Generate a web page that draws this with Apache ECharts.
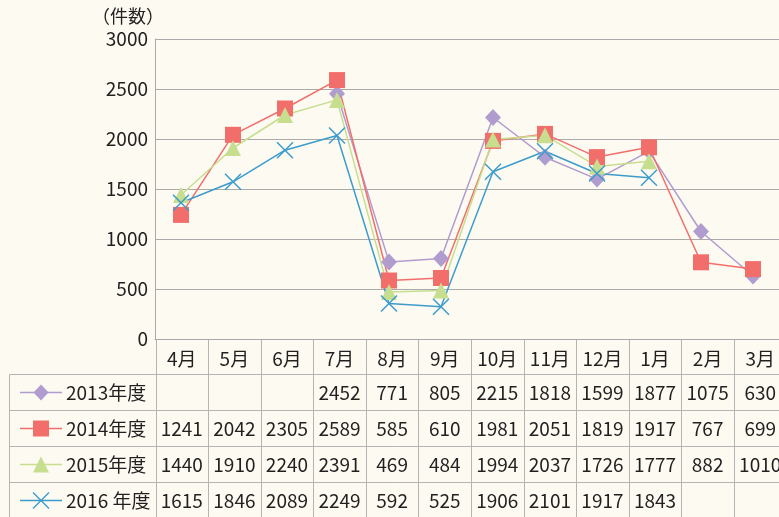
<!DOCTYPE html>
<html>
<head>
<meta charset="utf-8">
<script src="https://cdn.jsdelivr.net/npm/echarts@6/dist/echarts.min.js"></script>
<style>
html,body{margin:0;padding:0;background:#fdfaf2;}
#chart{width:779px;height:517px;}
</style>
</head>
<body>
<div id="chart"></div>
<script>
// ---- data ----
const months = ['4月','5月','6月','7月','8月','9月','10月','11月','12月','1月','2月','3月'];
const seriesNames = ['2013年度','2014年度','2015年度','2016 年度'];
const table2013 = [null,null,null,2452,771,805,2215,1818,1599,1877,1075,630];
const table2014 = [1241,2042,2305,2589,585,610,1981,2051,1819,1917,767,699];
const table2015 = [1440,1910,2240,2391,469,484,1994,2037,1726,1777,882,1010];
const table2016 = [1615,1846,2089,2249,592,525,1906,2101,1917,1843,null,null];
// plotted positions as drawn in the picture
const plot2013 = [null,null,null,2452,771,805,2215,1818,1599,1877,1075,630];
const plot2014 = [1241,2042,2305,2589,585,610,1981,2051,1819,1917,767,699];
const plot2015 = [1440,1910,2240,2391,469,484,1994,2037,1726,1777,null,null];
const plot2016 = [1362,1572,1888,2035,355,322,1672,1878,1655,1612,null,null];
const yMin = 0, yMax = 3000, yStep = 500;
const yAxisName = '（件数）';

// ---- style ----
const colors = ['#b09ccf','#f26e6b','#c6de8d','#3c9ccc'];
const FONT = '"Noto Sans CJK JP", "Noto Sans", sans-serif';
const TXT = '#231f20';
const G = {left:155, top:39, width:631, height:300};
const crossPath = 'path://M0 0L16 16M16 0L0 16';
const symbols = ['diamond','rect','triangle',crossPath];

const tables = [table2013, table2014, table2015, table2016];
const plots = [plot2013, plot2014, plot2015, plot2016];

const chart = echarts.init(document.getElementById('chart'), null, {renderer:'canvas'});

function buildTable(){
  const els = [];
  const colW = G.width / months.length;
  const x0 = G.left + 0.5;
  const headTop = G.top + G.height + 0.5;
  const rowLines = [374.5, 410.5, 446.5, 482.5, 518.5];
  const lineColor = '#b4b4b4';
  const right = 779;
  rowLines.slice(0,4).forEach(y=>{
    els.push({type:'line', shape:{x1:9.5,y1:y,x2:right,y2:y}, style:{stroke:lineColor,lineWidth:1}, silent:true});
  });
  els.push({type:'line', shape:{x1:9.5,y1:rowLines[0],x2:9.5,y2:517}, style:{stroke:lineColor,lineWidth:1}, silent:true});
  for(let i=0;i<=months.length;i++){
    const x = Math.round(x0 + i*colW) + 0.5;
    els.push({type:'line', shape:{x1:x,y1:headTop,x2:x,y2:517}, style:{stroke:lineColor,lineWidth:1}, silent:true});
  }
  months.forEach((m,i)=>{
    els.push({type:'text', silent:true, style:{text:m, x:x0+(i+0.5)*colW, y:(headTop+rowLines[0])/2+1.5,
      fill:TXT, font:'19px '+FONT, align:'center', verticalAlign:'middle'}});
  });
  tables.forEach((arr,r)=>{
    const cy = (rowLines[r]+rowLines[r+1])/2;
    arr.forEach((v,i)=>{
      if(v==null) return;
      els.push({type:'text', silent:true, style:{text:String(v), x:x0+(i+0.5)*colW, y:cy,
        fill:TXT, font:'19px '+FONT, align:'center', verticalAlign:'middle'}});
    });
    const c = colors[r];
    const mx = 41;
    els.push({type:'line', silent:true, shape:{x1:20,y1:cy,x2:62,y2:cy}, style:{stroke:c,lineWidth:1.5}});
    if(r===0){
      els.push({type:'polygon', silent:true, shape:{points:[[mx,cy-8],[mx+7.5,cy],[mx,cy+8],[mx-7.5,cy]]}, style:{fill:c}});
    } else if(r===1){
      els.push({type:'rect', silent:true, shape:{x:mx-8,y:cy-8,width:16,height:16}, style:{fill:c}});
    } else if(r===2){
      els.push({type:'polygon', silent:true, shape:{points:[[mx,cy-8],[mx+8,cy+8],[mx-8,cy+8]]}, style:{fill:c}});
    } else {
      els.push({type:'line', silent:true, shape:{x1:mx-8,y1:cy-8,x2:mx+8,y2:cy+8}, style:{stroke:c,lineWidth:1.5}});
      els.push({type:'line', silent:true, shape:{x1:mx+8,y1:cy-8,x2:mx-8,y2:cy+8}, style:{stroke:c,lineWidth:1.5}});
    }
    els.push({type:'text', silent:true, style:{text:seriesNames[r], x:66, y:cy,
      fill:TXT, font:'19px '+FONT, align:'left', verticalAlign:'middle'}});
  });
  els.push({type:'text', silent:true, style:{text:yAxisName, x:128, y:16,
    fill:TXT, font:'18px '+FONT, align:'center', verticalAlign:'middle'}});
  return els;
}

const option = {
  backgroundColor:'#fdfaf2',
  animation:false,
  grid:{left:G.left, top:G.top, width:G.width, height:G.height, containLabel:false},
  xAxis:{type:'category', data:months, boundaryGap:true,
    axisLine:{show:true, lineStyle:{color:'#a8a8a8', width:1}},
    axisTick:{show:false}, axisLabel:{show:false}, splitLine:{show:false}},
  yAxis:{type:'value', min:yMin, max:yMax, interval:yStep,
    axisLine:{show:true, lineStyle:{color:'#a8a8a8', width:1}},
    axisTick:{show:false},
    axisLabel:{color:TXT, fontSize:19, fontFamily:FONT, margin:7, formatter:v=>String(v)},
    splitLine:{show:true, lineStyle:{color:'#aaaaaa', width:1}}},
  series: plots.map((d,i)=>({
    name:seriesNames[i], type:'line', data:d, symbol:symbols[i],
    symbolSize: i===0 ? [16,17] : 16,
    showAllSymbol:true, connectNulls:false,
    lineStyle:{color:colors[i], width:1.5},
    itemStyle:{color:colors[i], borderColor:colors[i], borderWidth: i===3 ? 1.5 : 0, opacity:1},
    emphasis:{disabled:true}
  })),
  graphic: buildTable()
};
chart.setOption(option);
</script>
</body>
</html>
